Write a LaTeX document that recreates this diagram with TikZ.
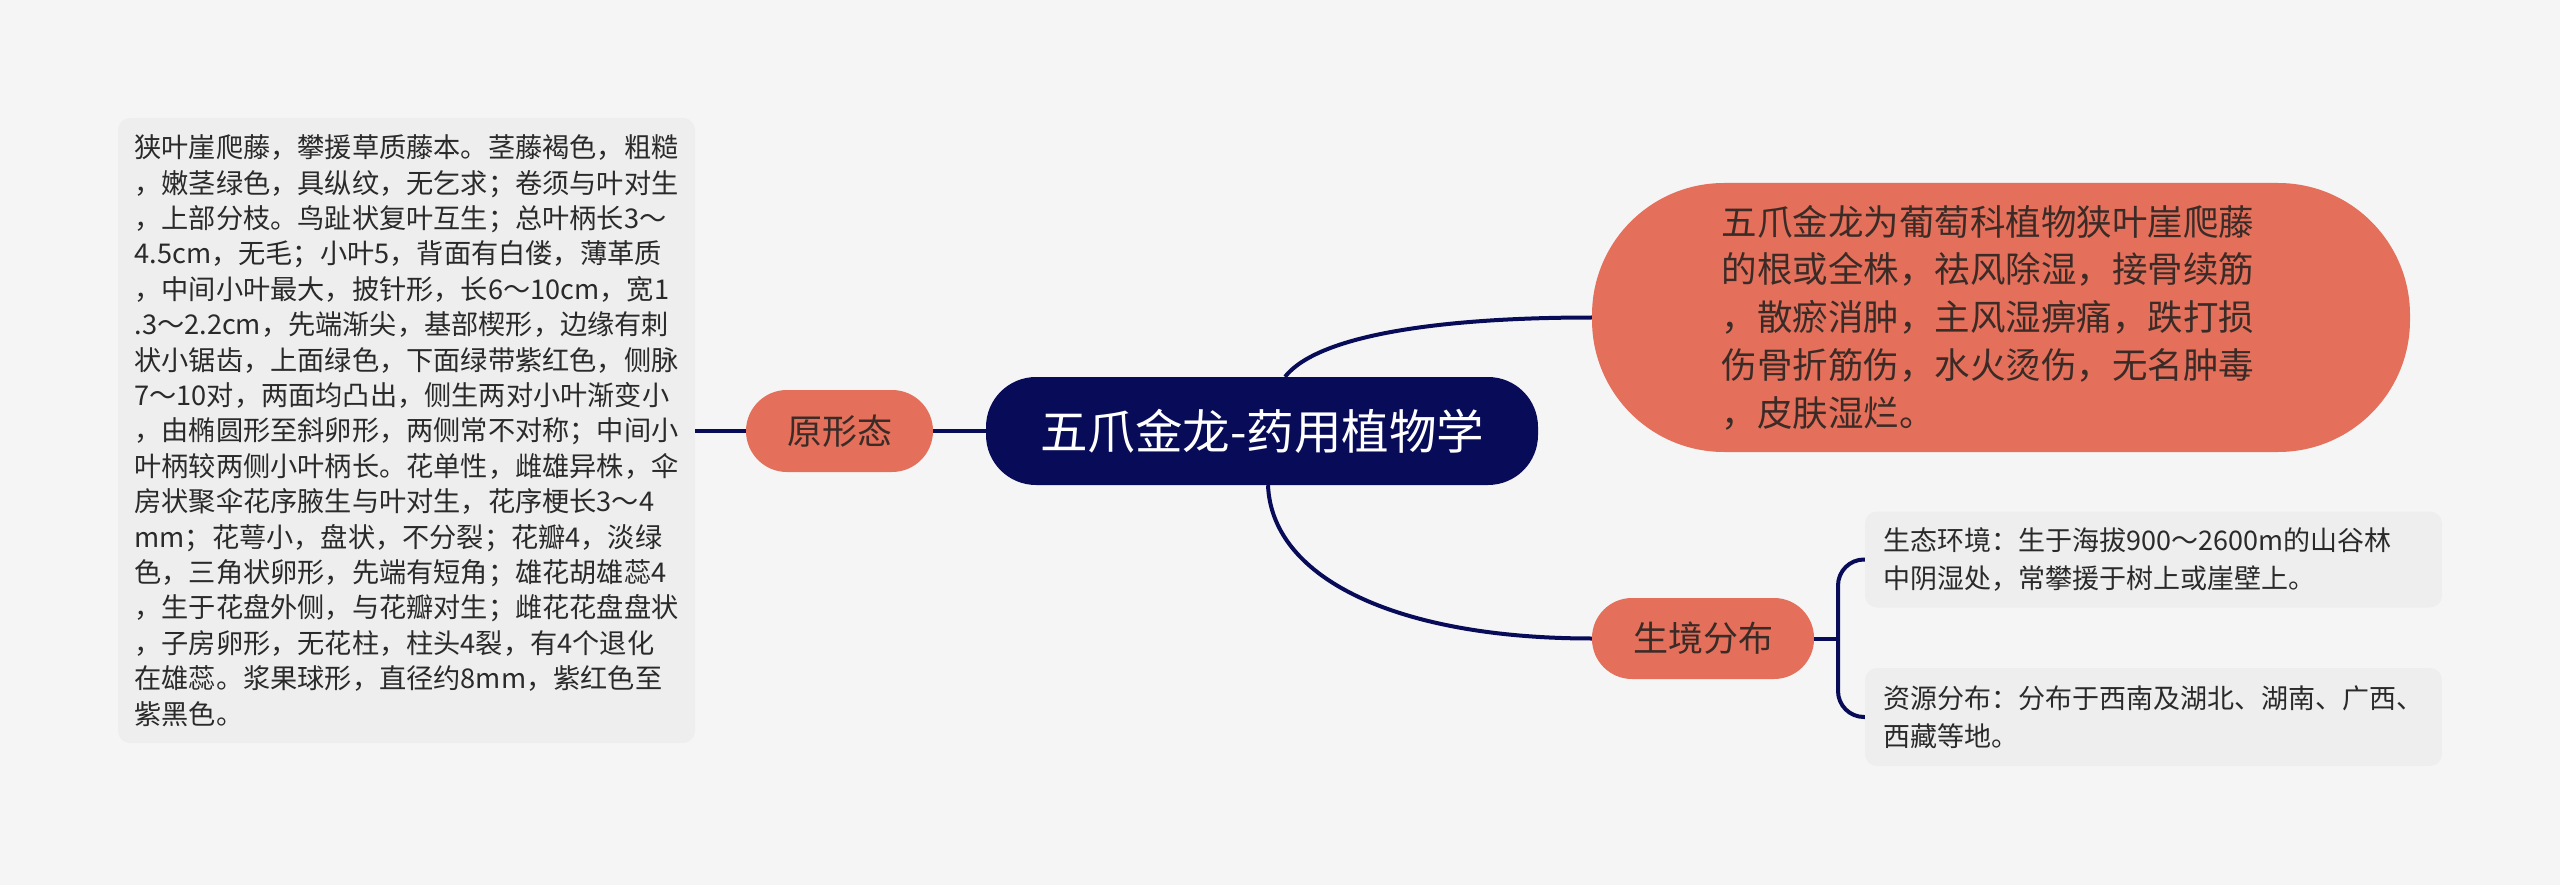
\documentclass[tikz,border=0pt]{standalone}
\usepackage{fontspec}
\setmainfont{Noto Sans CJK SC}
\usetikzlibrary{calc}
\definecolor{bgc}{HTML}{F5F5F5}
\definecolor{boxc}{HTML}{EEEEEE}
\definecolor{salmon}{HTML}{E46F5A}
\definecolor{navy}{HTML}{080C58}
\definecolor{darktxt}{HTML}{3A2B27}
\definecolor{graytxt}{HTML}{2A2A2A}
\tikzset{
  rootnode/.style={fill=navy, text=white, rounded corners=50pt, inner sep=0pt, font=\fontsize{47.5}{52}\selectfont},
  mainnode/.style={fill=salmon, text=darktxt, inner sep=0pt, font=\fontsize{35}{40}\selectfont},
  gbox/.style={fill=boxc, text=graytxt, rounded corners=12pt, inner sep=0pt, align=left},
  link/.style={draw=navy, line width=4pt},
}
\begin{document}
\begin{tikzpicture}[x=1pt,y=-1pt]
\useasboundingbox[fill=bgc] (0,0) rectangle (2560,885);

\node[rootnode, minimum width=552pt, minimum height=108pt] (root) at (1262,431) {五爪金龙-药用植物学};

\node[mainnode, rounded corners=41pt, minimum width=187pt, minimum height=82pt] (morph) at (839.5,431) {原形态};

\node[mainnode, rounded corners=132pt, minimum width=818pt, minimum height=269pt, align=left, font=\fontsize{35.5}{47.8}\selectfont] (use) at (2001,317.5) {五爪金龙为葡萄科植物狭叶崖爬藤\hspace*{26pt}\\的根或全株，祛风除湿，接骨续筋\\，散瘀消肿，主风湿痹痛，跌打损\\伤骨折筋伤，水火烫伤，无名肿毒\\，皮肤湿烂。};

\node[mainnode, rounded corners=40pt, minimum width=222pt, minimum height=81pt] (hab) at (1703,638.5) {生境分布};

\node[gbox, minimum width=577pt, minimum height=625pt, font=\fontsize{27.2}{35.4}\selectfont] (desc) at (406.5,430.5) {狭叶崖爬藤，攀援草质藤本。茎藤褐色，粗糙\\，嫩茎绿色，具纵纹，无乞求；卷须与叶对生\\，上部分枝。鸟趾状复叶互生；总叶柄长3～\\4.5cm，无毛；小叶5，背面有白偻，薄革质\\，中间小叶最大，披针形，长6～10cm，宽1\\.3～2.2cm，先端渐尖，基部楔形，边缘有刺\\状小锯齿，上面绿色，下面绿带紫红色，侧脉\\7～10对，两面均凸出，侧生两对小叶渐变小\\，由椭圆形至斜卵形，两侧常不对称；中间小\\叶柄较两侧小叶柄长。花单性，雌雄异株，伞\\房状聚伞花序腋生与叶对生，花序梗长3～4\\mm；花萼小，盘状，不分裂；花瓣4，淡绿\\色，三角状卵形，先端有短角；雄花胡雄蕊4\\，生于花盘外侧，与花瓣对生；雌花花盘盘状\\，子房卵形，无花柱，柱头4裂，有4个退化\\在雄蕊。浆果球形，直径约8mm，紫红色至\\紫黑色。};

\node[gbox, minimum width=577pt, minimum height=96pt, font=\fontsize{27}{37.5}\selectfont] (env) at (2153.5,559.5) {生态环境：生于海拔900～2600m的山谷林\\中阴湿处，常攀援于树上或崖壁上。\hphantom{的山谷林}};

\node[gbox, minimum width=577pt, minimum height=98pt, font=\fontsize{27}{37.5}\selectfont] (dist) at (2153.5,717) {资源分布：分布于西南及湖北、湖南、广西、\\西藏等地。};

\coordinate (brk) at (1838,638.5);

\draw[link] (root.west) -- (morph.west -| morph.east);
\draw[link] (morph.west) -- (morph.west -| desc.east);
\draw[link] ([xshift=23pt]root.north) .. controls (1318,335) and (1440,317.5) .. (use.west);
\draw[link] ([xshift=6pt]root.south) .. controls (1272,580) and (1400,638.5) .. (hab.west);
\draw[link] (hab.east) -- (brk);
\draw[link, rounded corners=26pt] (env.west) -| (brk) |- (dist.west);
\end{tikzpicture}
\end{document}
